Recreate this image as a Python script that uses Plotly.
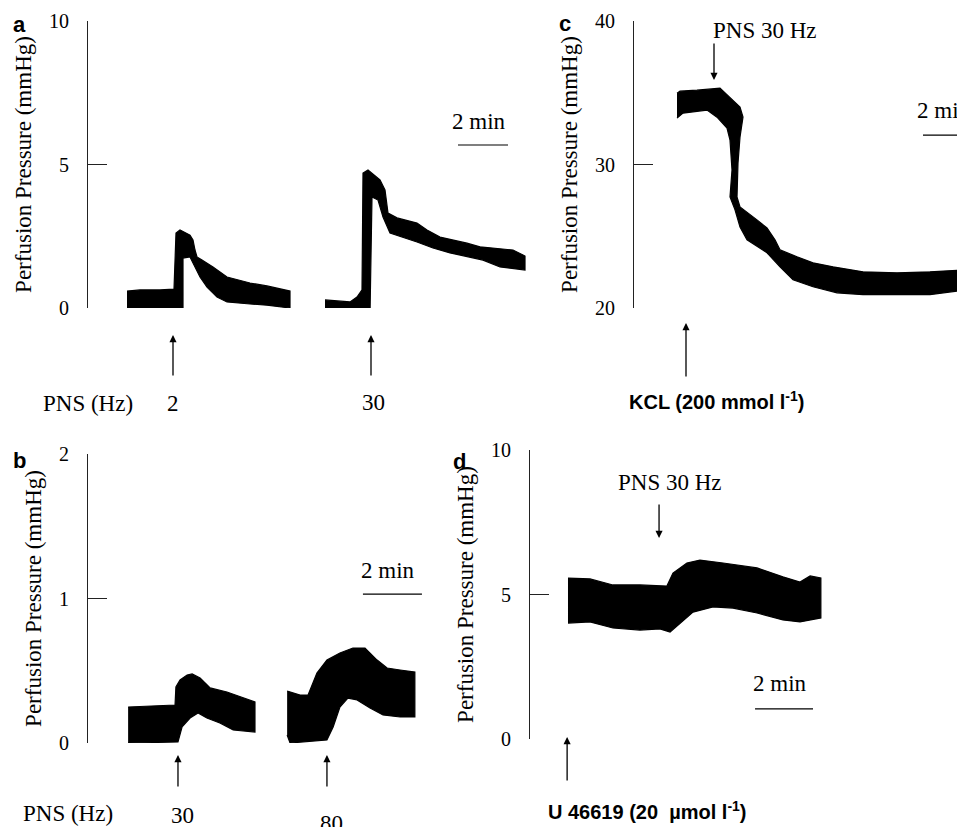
import plotly.graph_objects as go

# reference canvas 965x827; the page body adds an 8 px margin, so the figure is 957x819
REF_W, REF_H = 965, 827
OFF = 8
W, H = REF_W - OFF, REF_H - OFF

# ---------------- data (time in min, pressure in mmHg) ----------------
# Panel a, PNS 2 Hz
a1_top_t = [1.56, 2.08, 2.88, 3.44, 3.52, 3.68, 4.08, 4.20, 4.28, 4.36, 4.56, 5.00, 5.56, 6.48, 7.16, 8.08]
a1_top_p = [0.59, 0.63, 0.63, 0.66, 2.61, 2.72, 2.54, 2.37, 2.02, 1.78, 1.67, 1.43, 1.08, 0.87, 0.77, 0.59]
a1_bot_t = [1.56, 3.80, 3.80, 4.08, 4.28, 4.48, 4.76, 5.16, 5.56, 6.48, 7.16, 8.08]
a1_bot_p = [-0.03, -0.03, 1.74, 1.78, 1.43, 1.08, 0.73, 0.38, 0.21, 0.14, 0.10, 0.00]
# Panel a, PNS 30 Hz
a2_top_t = [9.48, 10.48, 10.76, 10.96, 11.00, 11.20, 11.68, 11.88, 12.00, 12.36, 13.16, 13.56, 14.08, 15.16, 15.68, 17.00, 17.40, 17.48]
a2_top_p = [0.28, 0.21, 0.38, 0.63, 4.70, 4.81, 4.46, 4.11, 3.31, 3.14, 2.96, 2.72, 2.47, 2.26, 2.13, 2.02, 1.85, 1.81]
a2_bot_t = [9.48, 11.28, 11.36, 11.60, 11.80, 12.08, 13.16, 13.80, 14.48, 15.80, 16.48, 17.48]
a2_bot_p = [-0.24, -0.24, 3.87, 3.76, 3.17, 2.61, 2.30, 2.09, 1.92, 1.67, 1.43, 1.32]

# Panel c, KCl then PNS 30 Hz
c_top_t = [1.72, 1.84, 2.52, 3.44, 4.24, 4.36, 4.24, 4.16, 4.12, 4.24, 4.92, 5.32, 5.64, 5.84, 6.52, 7.16, 7.96, 9.16, 10.52, 11.84, 13.30]
c_top_p = [34.97, 35.11, 35.18, 35.32, 34.00, 33.30, 31.91, 30.10, 27.74, 27.04, 26.14, 25.58, 24.75, 24.05, 23.57, 23.15, 22.87, 22.52, 22.45, 22.52, 22.66]
c_bot_t = [1.72, 1.96, 2.92, 3.32, 3.72, 3.84, 3.92, 3.84, 4.04, 4.24, 4.52, 5.32, 5.84, 6.36, 7.16, 8.12, 9.16, 10.52, 11.84, 13.30]
c_bot_p = [33.23, 33.58, 33.79, 33.30, 32.54, 31.70, 29.62, 27.74, 26.84, 25.65, 24.75, 23.85, 22.87, 21.97, 21.48, 21.06, 20.93, 20.93, 20.93, 21.27]

# Panel b, PNS 30 Hz
b1_top_t = [1.36, 2.10, 2.95, 2.98, 3.12, 3.36, 3.53, 3.80, 4.14, 4.71, 5.25, 5.66]
b1_top_p = [0.249, 0.256, 0.263, 0.388, 0.436, 0.471, 0.478, 0.450, 0.381, 0.353, 0.311, 0.284]
b1_bot_t = [1.36, 3.05, 3.19, 3.46, 3.73, 4.03, 4.47, 4.92, 5.66]
b1_bot_p = [0.000, 0.007, 0.111, 0.173, 0.208, 0.173, 0.138, 0.090, 0.076]
# Panel b, PNS 80 Hz
b2_top_t = [6.75, 7.19, 7.46, 7.76, 8.10, 8.54, 8.98, 9.39, 9.80, 10.14, 10.58, 11.08]
b2_top_p = [0.360, 0.332, 0.332, 0.484, 0.574, 0.623, 0.657, 0.657, 0.574, 0.519, 0.505, 0.491]
b2_bot_t = [6.75, 6.85, 8.10, 8.31, 8.54, 8.81, 9.12, 9.56, 10.00, 10.58, 11.08]
b2_bot_p = [0.055, 0.000, 0.021, 0.111, 0.249, 0.311, 0.298, 0.242, 0.194, 0.180, 0.180]

# Panel d, U 46619 then PNS 30 Hz
d_top_t = [1.31, 2.07, 2.86, 3.79, 4.72, 4.93, 5.41, 5.86, 6.66, 7.83, 8.72, 9.31, 9.66, 10.03]
d_top_p = [5.57, 5.54, 5.33, 5.33, 5.29, 5.74, 6.09, 6.19, 6.09, 5.92, 5.61, 5.43, 5.64, 5.57]
d_bot_t = [1.31, 2.07, 2.86, 3.79, 4.48, 4.83, 5.17, 5.62, 6.31, 7.00, 7.83, 8.72, 9.31, 10.03]
d_bot_p = [4.01, 4.05, 3.84, 3.77, 3.81, 3.70, 4.01, 4.39, 4.57, 4.53, 4.36, 4.12, 4.05, 4.19]

# stimulus times (min) and labels
a_stim_t = [3.40, 11.32]
a_stim_lbl = ["2", "30"]
b_stim_t = [3.05, 8.10]
b_stim_lbl = ["30", "80"]
c_kcl_t = 2.08
c_pns_t = 3.20
d_u_t = 1.28
d_pns_t = 4.45

y_ticks_a = [0, 5, 10]
y_ticks_b = [0, 1, 2]
y_ticks_c = [20, 30, 40]
y_ticks_d = [0, 5, 10]
scale_len_min = 2

SERIF = "Liberation Serif, Times New Roman, serif"
SANS = "Liberation Sans, Arial, sans-serif"


def px(x):
    return (x - OFF) / W


def py(y):
    return 1 - (y - OFF) / H


def band(tt, tp, bt, bp, xa, ya):
    return go.Scatter(
        x=list(tt) + list(bt)[::-1], y=list(tp) + list(bp)[::-1],
        mode="lines", fill="toself", fillcolor="black",
        line=dict(color="black", width=1.2),
        xaxis=xa, yaxis=ya, hoverinfo="skip", showlegend=False)


fig = go.Figure()
fig.add_trace(band(a1_top_t, a1_top_p, a1_bot_t, a1_bot_p, "x", "y"))
fig.add_trace(band(a2_top_t, a2_top_p, a2_bot_t, a2_bot_p, "x", "y"))
fig.add_trace(band(c_top_t, c_top_p, c_bot_t, c_bot_p, "x2", "y2"))
fig.add_trace(band(b1_top_t, b1_top_p, b1_bot_t, b1_bot_p, "x3", "y3"))
fig.add_trace(band(b2_top_t, b2_top_p, b2_bot_t, b2_bot_p, "x3", "y3"))
fig.add_trace(band(d_top_t, d_top_p, d_bot_t, d_bot_p, "x4", "y4"))

yax_common = dict(
    showline=True, linecolor="#222", linewidth=1, ticks="inside", ticklen=19,
    tickwidth=1, tickcolor="#222", showgrid=False, zeroline=False,
    tickfont=dict(family=SERIF, size=20, color="black"),
    ticklabelstandoff=14, automargin=False,
    title=dict(text="Perfusion Pressure (mmHg)", font=dict(family=SERIF, size=23, color="black"), standoff=10),
    fixedrange=True,
)
xax_common = dict(visible=False, fixedrange=True, automargin=False)

fig.update_layout(
    width=W, height=H, margin=dict(l=0, r=0, t=0, b=0, autoexpand=False),
    paper_bgcolor="white", plot_bgcolor="white", showlegend=False,
    xaxis=dict(domain=[px(88), px(560)], range=[0, (560 - 88) / 25], anchor="y", **xax_common),
    yaxis=dict(domain=[py(308), py(21)], range=[0, 10], tickvals=y_ticks_a, anchor="x", **yax_common),
    xaxis2=dict(domain=[px(634), 1], range=[0, (965 - 634) / 25], anchor="y2", **xax_common),
    yaxis2=dict(domain=[py(308), py(21)], range=[20, 40], tickvals=y_ticks_c, anchor="x2", **yax_common),
    xaxis3=dict(domain=[px(88), px(440)], range=[0, (440 - 88) / 29.5], anchor="y3", **xax_common),
    yaxis3=dict(domain=[py(743), py(454)], range=[0, 2], tickvals=y_ticks_b, anchor="x3", **yax_common),
    xaxis4=dict(domain=[px(530), 1], range=[0, (965 - 530) / 29], anchor="y4", **xax_common),
    yaxis4=dict(domain=[py(739), py(450)], range=[0, 10], tickvals=y_ticks_d, anchor="x4", **yax_common),
)

# scale bars (2 min) drawn in each panel's time units
bars = [("x", "y", 14.8, 5.68), ("x2", "y2", 11.56, 32.05), ("x3", "y3", 9.32, 1.03), ("x4", "y4", 7.76, 1.04)]
for xr, yr, x0, yv in bars:
    fig.add_shape(type="line", xref=xr, yref=yr, x0=x0, x1=x0 + scale_len_min, y0=yv, y1=yv,
                  line=dict(color="black", width=1.2))

ann = []


def text(x, y, s, size=23, family=SERIF, xanchor="center"):
    ann.append(dict(x=px(x), y=py(y), xref="paper", yref="paper", text=s, showarrow=False,
                    xanchor=xanchor, yanchor="middle", font=dict(family=family, size=size, color="black")))


def arrow(xref, t, head_y, ay):
    ann.append(dict(x=t, y=py(head_y), xref=xref, yref="paper", text="", showarrow=True,
                    ax=0, ay=ay, arrowhead=2, arrowsize=1.1, arrowwidth=1.3, arrowcolor="black",
                    standoff=0, startstandoff=0))


# panel letters
for lx, ly, s in [(19, 24, "a"), (19, 460, "b"), (565, 23, "c"), (459, 461, "d")]:
    text(lx, ly, "<b>%s</b>" % s, size=22, family=SANS)

# scale-bar labels
text(479, 122, "2 min")
text(915, 110, "2 min", xanchor="left")
text(388, 570, "2 min")
text(780, 683, "2 min")

# panel a stimuli
for t in a_stim_t:
    arrow("x", t, 335, 42)
text(87.5, 403, "PNS (Hz)")
text(173, 403, a_stim_lbl[0])
text(373, 402, a_stim_lbl[1])

# panel b stimuli
for t in b_stim_t:
    arrow("x3", t, 755, 33)
text(68, 813, "PNS (Hz)")
text(182, 815, b_stim_lbl[0])
text(331, 823, b_stim_lbl[1])

# panel c
arrow("x2", c_pns_t, 80, -38)
text(765, 30, "PNS 30 Hz")
arrow("x2", c_kcl_t, 323, 55)
text(716.5, 400, "<b>KCL (200 mmol l<sup>-1</sup>)</b>", size=20, family=SANS)

# panel d
arrow("x4", d_pns_t, 538, -35)
text(670, 482, "PNS 30 Hz")
arrow("x4", d_u_t, 737, 45)
text(647, 810, "<b>U 46619 (20\u00a0 \u00b5mol l<sup>-1</sup>)</b>", size=20, family=SANS)

fig.update_layout(annotations=ann)
fig.write_html("out.html")
